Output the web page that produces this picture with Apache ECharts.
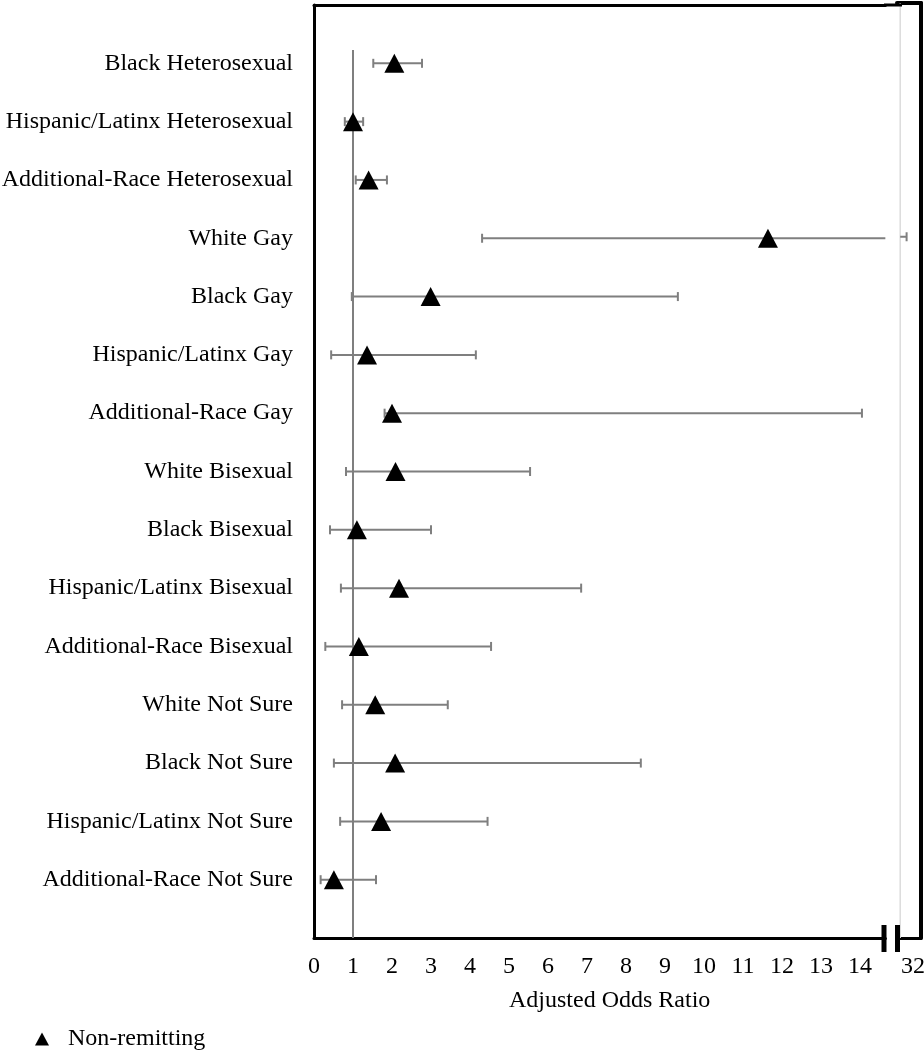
<!DOCTYPE html>
<html>
<head>
<meta charset="utf-8">
<script src="https://cdn.jsdelivr.net/npm/echarts@6/dist/echarts.min.js"></script>
<style>
html,body{margin:0;padding:0;background:#fff;}
#c{width:924px;height:1050px;}
</style>
</head>
<body>
<div id="c"></div>
<script>
// ---------- data ----------
const categories = [
  'Black Heterosexual',
  'Hispanic/Latinx Heterosexual',
  'Additional-Race Heterosexual',
  'White Gay',
  'Black Gay',
  'Hispanic/Latinx Gay',
  'Additional-Race Gay',
  'White Bisexual',
  'Black Bisexual',
  'Hispanic/Latinx Bisexual',
  'Additional-Race Bisexual',
  'White Not Sure',
  'Black Not Sure',
  'Hispanic/Latinx Not Sure',
  'Additional-Race Not Sure'
];
const oddsRatio = [2.06, 1.00, 1.40, 11.64, 2.99, 1.36, 2.00, 2.09, 1.10, 2.18, 1.15, 1.57, 2.08, 1.72, 0.51];
const ciLower   = [1.52, 0.79, 1.07, 4.31, 0.97, 0.44, 1.81, 0.82, 0.41, 0.69, 0.29, 0.72, 0.51, 0.67, 0.17];
const ciUpper   = [2.77, 1.26, 1.87, 30.8, 9.33, 4.15, 14.05, 5.54, 3.00, 6.85, 4.54, 3.43, 8.38, 4.45, 1.59];
const mainTicks = [0,1,2,3,4,5,6,7,8,9,10,11,12,13,14];
const brokenTickLabel = 32;
const referenceValue = 1;
const seriesName = 'Non-remitting';
const axisTitle = 'Adjusted Odds Ratio';

// axis ranges
const MAIN_MIN = 0, MAIN_MAX = 14.65;
const BROKEN_MIN = 29, BROKEN_MAX = 33.5, BROKEN_START = 29.6;
const ROW_MIN = 0, ROW_MAX = 16, REF_TOP = 0.77;

const FONT = "'Liberation Serif','Times New Roman',serif";
const GRAY = '#7f7f7f';

const rows = categories.map((c, i) => i + 1);
const pointData = rows.map((r, i) => [oddsRatio[i], r]);
const whiskerMainData = rows.map((r, i) => [r, ciLower[i], ciUpper[i]]);
const whiskerBrokenData = rows
  .map((r, i) => [r, BROKEN_START, ciUpper[i]])
  .filter(d => d[2] > MAIN_MAX);

function makeWhisker(maxVal, capLeft) {
  return function (params, api) {
    const row = api.value(0), lo = api.value(1), hi = api.value(2);
    const clipped = hi > maxVal;
    const a = api.coord([lo, row]);
    const b = api.coord([clipped ? maxVal : hi, row]);
    const h = 4.5;
    const style = { stroke: GRAY, lineWidth: 2 };
    const children = [
      { type: 'line', shape: { x1: a[0], y1: a[1], x2: b[0], y2: b[1] }, style }
    ];
    if (capLeft) children.push({ type: 'line', shape: { x1: a[0], y1: a[1] - h, x2: a[0], y2: a[1] + h }, style });
    if (!clipped) children.push({ type: 'line', shape: { x1: b[0], y1: b[1] - h, x2: b[0], y2: b[1] + h }, style });
    return { type: 'group', children };
  };
}

const axisLineBlack = w => ({ show: true, onZero: false, lineStyle: { color: '#000', width: w } });

const chart = echarts.init(document.getElementById('c'), null, { renderer: 'canvas' });
chart.setOption({
  backgroundColor: '#fff',
  animation: false,
  grid: [
    { left: 314, right: 924 - (314 + (MAIN_MAX - MAIN_MIN) * 39), top: 5, bottom: 112,
      containLabel: false, outerBoundsMode: 'none' },
    { left: 897, right: 3, top: 3, bottom: 112, containLabel: false, outerBoundsMode: 'none' }
  ],
  xAxis: [
    {
      gridIndex: 0, type: 'value', min: MAIN_MIN, max: MAIN_MAX, interval: 1, position: 'bottom',
      axisLine: axisLineBlack(3), axisTick: { show: false }, splitLine: { show: false },
      axisLabel: {
        margin: 17, fontFamily: FONT, fontSize: 24, color: '#000', showMaxLabel: false,
        formatter: v => (mainTicks.indexOf(v) >= 0 ? String(v) : '')
      },
      name: axisTitle, nameLocation: 'middle', nameGap: 51,
      nameTextStyle: { fontFamily: FONT, fontSize: 24, color: '#000', padding: [0, 0, 0, 20] }
    },
    {
      gridIndex: 0, type: 'value', min: MAIN_MIN, max: MAIN_MAX, position: 'top',
      axisLine: axisLineBlack(3), axisTick: { show: false }, splitLine: { show: false },
      axisLabel: { show: false }
    },
    {
      gridIndex: 1, type: 'value', min: BROKEN_MIN, max: BROKEN_MAX, interval: 0.5, position: 'bottom',
      axisLine: axisLineBlack(3), axisTick: { show: false }, splitLine: { show: false },
      axisLabel: {
        margin: 17, fontFamily: FONT, fontSize: 24, color: '#000',
        formatter: v => (v === brokenTickLabel ? String(v) : '')
      }
    },
    {
      gridIndex: 1, type: 'value', min: BROKEN_MIN, max: BROKEN_MAX, position: 'top',
      axisLine: axisLineBlack(4), axisTick: { show: false }, splitLine: { show: false },
      axisLabel: { show: false }
    }
  ],
  yAxis: [
    {
      gridIndex: 0, type: 'value', min: ROW_MIN, max: ROW_MAX, interval: 1, inverse: true, position: 'left',
      axisLine: axisLineBlack(3), axisTick: { show: false }, splitLine: { show: false },
      axisLabel: {
        margin: 21, fontFamily: FONT, fontSize: 24, color: '#000',
        formatter: v => categories[v - 1] || ''
      }
    },
    {
      gridIndex: 1, type: 'value', min: ROW_MIN, max: ROW_MAX, interval: 1, inverse: true, position: 'right',
      axisLine: axisLineBlack(4), axisTick: { show: false }, splitLine: { show: false },
      axisLabel: { show: false }
    }
  ],
  legend: {
    data: [seriesName], left: 35, top: 1027, orient: 'horizontal', padding: 0,
    icon: 'triangle', itemWidth: 14, itemHeight: 13,
    textStyle: { fontFamily: FONT, fontSize: 24, color: '#000', padding: [0, 0, 0, 14] }
  },
  series: [
    {
      type: 'line', xAxisIndex: 0, yAxisIndex: 0, silent: true, symbol: 'none', z: 1,
      data: [[referenceValue, REF_TOP], [referenceValue, ROW_MAX]],
      lineStyle: { color: GRAY, width: 2 }
    },
    {
      type: 'line', xAxisIndex: 2, yAxisIndex: 1, silent: true, symbol: 'none', z: 1,
      data: [[BROKEN_START, ROW_MIN], [BROKEN_START, ROW_MAX]],
      lineStyle: { color: '#dcdcdc', width: 1.5 }
    },
    {
      type: 'custom', xAxisIndex: 0, yAxisIndex: 0, z: 2,
      renderItem: makeWhisker(MAIN_MAX, true),
      encode: { x: [1, 2], y: 0 },
      data: whiskerMainData
    },
    {
      type: 'custom', xAxisIndex: 2, yAxisIndex: 1, z: 2,
      renderItem: makeWhisker(BROKEN_MAX, false),
      encode: { x: [1, 2], y: 0 },
      data: whiskerBrokenData
    },
    {
      name: seriesName, type: 'scatter', xAxisIndex: 0, yAxisIndex: 0, z: 3,
      symbol: 'triangle', symbolSize: [20, 19],
      itemStyle: { color: '#000', opacity: 1 },
      data: pointData
    }
  ],
  graphic: [
    // continuation of the top frame across the axis break
    { type: 'rect', z: 100, shape: { x: 884, y: 3.5, width: 18, height: 3 }, style: { fill: '#000' } },
    // axis break marks
    { type: 'rect', z: 100, shape: { x: 881.5, y: 925, width: 5, height: 27 }, style: { fill: '#000' } },
    { type: 'rect', z: 100, shape: { x: 895, y: 925, width: 5, height: 27 }, style: { fill: '#000' } }
  ]
});
</script>
</body>
</html>
